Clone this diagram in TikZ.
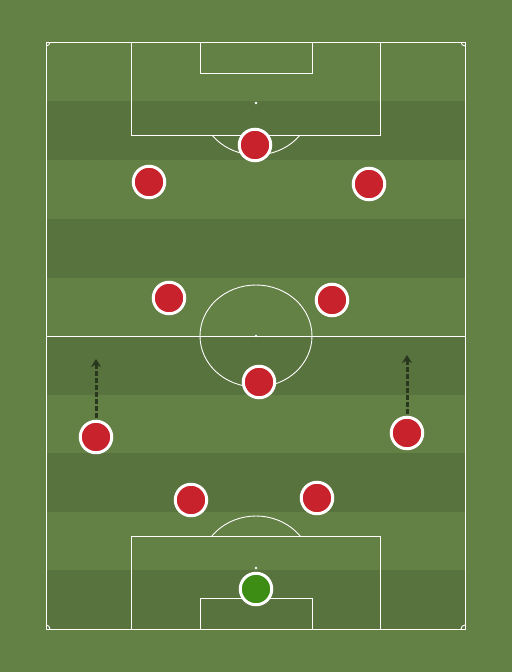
\documentclass[tikz,border=0pt]{standalone}
\usetikzlibrary{arrows.meta, shadows}
\definecolor{grasslight}{RGB}{99,128,69}
\definecolor{grassdark}{RGB}{88,115,62}
\definecolor{shirtred}{RGB}{200,35,44}
\definecolor{keepergreen}{RGB}{61,140,20}
\definecolor{runcolor}{RGB}{40,55,30}
\tikzset{
  pitchline/.style = {draw=white, line width=0.9pt},
  player/.style = {circle, draw=white, line width=3pt, minimum size=31.5pt, inner sep=0pt, fill=shirtred,
    drop shadow={opacity=0.25, shadow xshift=0.6pt, shadow yshift=-0.8pt}},
  keeper/.style = {player, fill=keepergreen},
  run/.style = {draw=runcolor, line width=3pt, dash pattern=on 4.5pt off 2.5pt, -{Stealth[length=8pt,width=10pt]}}
}
\begin{document}
\begin{tikzpicture}[x=1pt, y=-1pt]
    \useasboundingbox (0,0) rectangle (512,672);
    \fill[grasslight] (0,0) rectangle (512,672);
    % stripes
    \foreach \y in {101, 218.5, 336, 453, 570}{
      \fill[grassdark] (46,\y) rectangle (465,\y + 59);
    }
    % pitch markings
    \draw[pitchline] (46,42) rectangle (465,629);
    \draw[pitchline] (46,336) -- (465,336);
    \draw[pitchline] (256,336) ellipse[x radius=56, y radius=51];
    \fill[white] (256,336) circle[radius=1.3];
    \draw[pitchline] (131,42) rectangle (380,135);
    \draw[pitchline] (200,42) rectangle (312,73);
    \fill[white] (256,103) circle[radius=1.3];
    \draw[pitchline] (131,536) rectangle (380,629);
    \draw[pitchline] (200,598) rectangle (312,629);
    \fill[white] (256,568) circle[radius=1.3];
    \begin{scope}
      \clip (46,135) rectangle (465,200);
      \draw[pitchline] (256,103) ellipse[x radius=56, y radius=52];
    \end{scope}
    \begin{scope}
      \clip (46,470) rectangle (465,536);
      \draw[pitchline] (256,568) ellipse[x radius=56, y radius=52];
    \end{scope}
    \foreach \cx/\cy in {46/42, 465/42, 46/629, 465/629}{
      \begin{scope}
        \clip (46,42) rectangle (465,629);
        \draw[pitchline] (\cx,\cy) circle[radius=4];
      \end{scope}
    }
    % players
    \node[player] (cm)  at (255,145) {};
    \node[player] (lw)  at (149,182) {};
    \node[player] (rw)  at (369,184) {};
    \node[player] (lam) at (169,298) {};
    \node[player] (ram) at (332,300) {};
    \node[player] (dm)  at (259,382) {};
    \node[player] (lb)  at (96,437)  {};
    \node[player] (rb)  at (407,433) {};
    \node[player] (lcb) at (191,500) {};
    \node[player] (rcb) at (317,498) {};
    \node[keeper] (gk)  at (256,589) {};
    % runs
    \coordinate (lbrun) at (96,359);
    \coordinate (rbrun) at (407,355);
    \draw[run] (lb.north) ++(0,-2) -- (lbrun);
    \draw[run] (rb.north) ++(0,-2) -- (rbrun);
  \end{tikzpicture}
\end{document}
